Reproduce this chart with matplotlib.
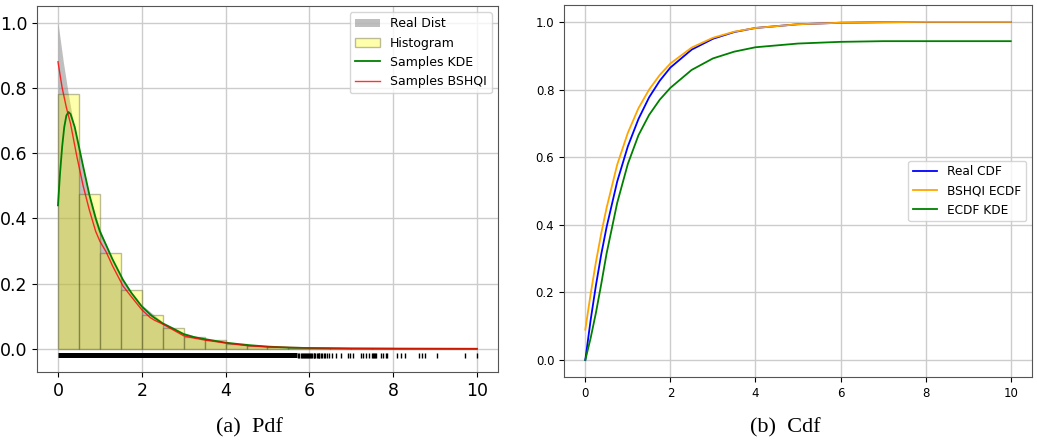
import matplotlib
matplotlib.use("Agg")
import matplotlib.pyplot as plt

# ---- (a) pdf panel ----
real_x = [0, 0.125, 0.25, 0.375, 0.5, 0.75, 1, 1.25, 1.5, 1.75, 2, 2.5, 3, 3.5, 4, 5, 6, 7, 8, 10]
real_pdf = [1.0, 0.882, 0.779, 0.687, 0.607, 0.472, 0.368, 0.287, 0.223, 0.174, 0.135,
            0.082, 0.050, 0.030, 0.018, 0.0067, 0.0025, 0.0009, 0.0003, 0.0]

hist_left = [0, 0.5, 1, 1.5, 2, 2.5, 3, 3.5, 4, 4.5, 5, 5.5, 6, 6.5, 7, 7.5, 8, 8.5, 9, 9.5]
hist_height = [0.78, 0.474, 0.294, 0.180, 0.104, 0.065, 0.036, 0.027, 0.015, 0.010,
               0.006, 0.004, 0.003, 0.002, 0.0015, 0.002, 0.001, 0.0008, 0.0003, 0.0005]

kde_x = [0, 0.05, 0.1, 0.15, 0.2, 0.25, 0.3, 0.4, 0.5, 0.6, 0.75, 0.9, 1.0, 1.15, 1.3,
         1.55, 1.75, 2.0, 2.25, 2.5, 2.75, 3.0, 3.25, 3.5, 4.0, 4.5, 5.0, 5.5, 6.0, 7.0, 8.0, 10.0]
kde_pdf = [0.44, 0.54, 0.62, 0.68, 0.715, 0.726, 0.72, 0.68, 0.62, 0.56, 0.472, 0.40, 0.36,
           0.318, 0.275, 0.212, 0.172, 0.13, 0.10, 0.078, 0.062, 0.045, 0.036, 0.030, 0.019,
           0.012, 0.007, 0.004, 0.0025, 0.001, 0.0006, 0.0003]

bshqi_x = [0, 0.1, 0.2, 0.3, 0.45, 0.6, 0.75, 0.9, 1.0, 1.15, 1.3, 1.55, 1.75, 2.0, 2.2, 2.3,
           2.5, 2.75, 3.0, 3.25, 3.5, 4.0, 4.5, 5.0, 6.0, 7.0, 8.0, 10.0]
bshqi_pdf = [0.88, 0.80, 0.74, 0.69, 0.59, 0.50, 0.425, 0.36, 0.33, 0.297, 0.255, 0.193, 0.16,
             0.12, 0.096, 0.088, 0.076, 0.058, 0.040, 0.033, 0.027, 0.018, 0.010, 0.006, 0.003,
             0.0015, 0.001, 0.0005]

rug_level = -0.02
rug_dense = (0.0, 5.7)  # region where the sample ticks merge into a solid bar
rug_samples = [5.73, 5.76, 5.80, 5.82, 5.84, 5.87, 5.90, 5.92, 5.94, 5.97, 6.00, 6.02, 6.04,
               6.07, 6.10, 6.12, 6.14, 6.17, 6.20, 6.22, 6.24, 6.28, 6.31, 6.35, 6.38, 6.42,
               6.46, 6.55, 6.63, 6.75, 6.91, 6.97, 7.05, 7.22, 7.28, 7.34, 7.42, 7.50, 7.52,
               7.54, 7.56, 7.58, 7.70, 7.76, 7.82, 7.86, 8.10, 8.18, 8.29, 8.61, 8.69, 8.77,
               9.05, 9.72, 9.99]

# ---- (b) cdf panel ----
cdf_x = [0, 0.125, 0.25, 0.375, 0.5, 0.75, 1, 1.25, 1.5, 1.75, 2, 2.5, 3, 3.5, 4, 5, 6, 7, 8, 10]
real_cdf = [0, 0.118, 0.221, 0.313, 0.393, 0.528, 0.632, 0.713, 0.777, 0.826, 0.865, 0.918,
            0.950, 0.970, 0.982, 0.993, 0.9975, 0.999, 0.9997, 1.0]
bshqi_ecdf = [0.09, 0.195, 0.29, 0.375, 0.45, 0.578, 0.672, 0.745, 0.80, 0.843, 0.877, 0.924,
              0.953, 0.971, 0.982, 0.993, 0.9975, 0.999, 1.0, 1.0]
kde_ecdf = [0, 0.065, 0.14, 0.225, 0.315, 0.465, 0.58, 0.665, 0.725, 0.77, 0.805, 0.858,
            0.892, 0.912, 0.925, 0.936, 0.941, 0.943, 0.943, 0.943]

ticks = [0, 2, 4, 6, 8, 10]

fig = plt.figure(figsize=(10.37, 4.45), dpi=100)
ax1 = fig.add_axes([0.0357, 0.164, 0.4445, 0.8225])
ax2 = fig.add_axes([0.5439, 0.1528, 0.4513, 0.836])

h_real = ax1.fill_between(real_x, real_pdf, color="gray", alpha=0.5, lw=0, label="Real Dist")
h_hist = ax1.bar(hist_left, hist_height, width=0.5, align="edge", color=(1, 1, 0, 0.33),
                 edgecolor=(0.25, 0.25, 0.1, 0.35), linewidth=1, label="Histogram")
h_kde, = ax1.plot(kde_x, kde_pdf, color="green", lw=1.3, label="Samples KDE")
h_bsh, = ax1.plot(bshqi_x, bshqi_pdf, color="red", lw=1.0, alpha=0.8, label="Samples BSHQI")
ax1.hlines(rug_level, rug_dense[0], rug_dense[1], color="black", lw=3.6)
ax1.plot(rug_samples, [rug_level] * len(rug_samples), "|", color="black", ms=3.6, mew=1)
ax1.set_xlim(-0.5, 10.5)
ax1.set_ylim(-0.071, 1.051)
ax1.set_xticks(ticks)
ax1.tick_params(labelsize=12.5)
ax1.legend(handles=[h_real, h_hist, h_kde, h_bsh], loc="upper right", fontsize=9,
           framealpha=0.8, handlelength=2)

ax2.plot(cdf_x, real_cdf, color="blue", lw=1.3, label="Real CDF")
ax2.plot(cdf_x, bshqi_ecdf, color="orange", lw=1.3, label="BSHQI ECDF")
ax2.plot(cdf_x, kde_ecdf, color="green", lw=1.3, label="ECDF KDE")
ax2.set_xlim(-0.5, 10.5)
ax2.set_ylim(-0.05, 1.05)
ax2.set_xticks(ticks)
ax2.tick_params(labelsize=8.5)
ax2.legend(loc="center right", fontsize=8.7, framealpha=0.8, handlelength=2)

for ax in (ax1, ax2):
    ax.grid(True, color="#cccccc", lw=1)
    ax.set_axisbelow(True)
    for s in ax.spines.values():
        s.set_color("#555555")

fig.text(0.241, 0.038, "(a)  Pdf", ha="center", va="center", family="Liberation Serif", fontsize=16)
fig.text(0.757, 0.038, "(b)  Cdf", ha="center", va="center", family="Liberation Serif", fontsize=16)

fig.savefig("out.png", dpi=100)
